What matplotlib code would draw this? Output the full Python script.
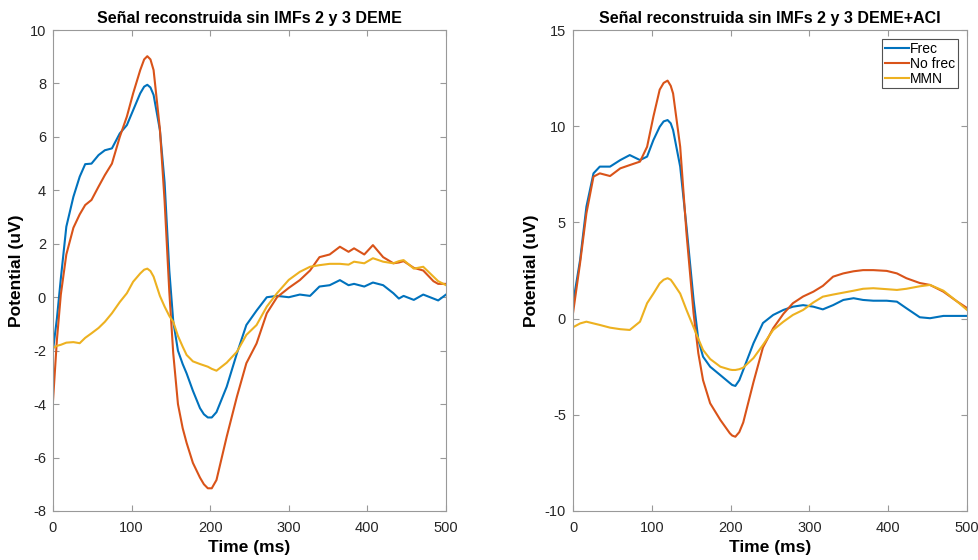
import matplotlib.pyplot as plt
import numpy as np

plt.rc('font', family=['Liberation Sans', 'DejaVu Sans'], size=10)
plt.rcParams['axes.unicode_minus'] = False

# left panel: DEME
t_left = [0, 5, 10, 17, 26, 34, 41, 49, 58, 66, 75, 85, 94, 102, 111, 116, 120,
          124, 128, 136, 142, 148, 153, 159, 165, 170, 178, 187, 192, 197, 202,
          208, 221, 234, 246, 259, 272, 285, 300, 314, 327, 339, 352, 365, 376,
          383, 396, 407, 420, 433, 440, 446, 459, 471, 484, 490, 500]
frec_left = [-2.0, -0.8, 0.7, 2.64, 3.76, 4.51, 4.98, 5.0, 5.32, 5.5, 5.57, 6.13,
             6.44, 7.0, 7.63, 7.88, 7.95, 7.85, 7.57, 6.26, 4.3, 1.0, -0.9, -2.0,
             -2.5, -2.85, -3.5, -4.15, -4.38, -4.5, -4.5, -4.3, -3.35, -2.1, -1.04,
             -0.5, 0.0, 0.05, 0.0, 0.1, 0.05, 0.4, 0.45, 0.64, 0.45, 0.5, 0.4,
             0.55, 0.45, 0.15, -0.05, 0.05, -0.1, 0.1, -0.05, -0.12, 0.1]
nofrec_left = [-3.9, -1.6, 0.1, 1.6, 2.6, 3.1, 3.45, 3.64, 4.14, 4.57, 5.0, 6.0,
               6.76, 7.63, 8.5, 8.9, 9.02, 8.9, 8.5, 6.3, 3.6, 0.2, -2.1, -4.0,
               -4.9, -5.45, -6.2, -6.75, -7.0, -7.15, -7.15, -6.84, -5.22, -3.72,
               -2.47, -1.73, -0.6, 0.0, 0.35, 0.64, 1.0, 1.5, 1.6, 1.89, 1.7,
               1.83, 1.6, 1.95, 1.5, 1.27, 1.3, 1.35, 1.1, 1.0, 0.6, 0.5, 0.5]
mmn_left = [-1.9, -1.82, -1.78, -1.7, -1.68, -1.72, -1.52, -1.35, -1.15, -0.92,
            -0.6, -0.18, 0.15, 0.58, 0.89, 1.03, 1.07, 0.98, 0.77, 0.05, -0.35,
            -0.7, -0.92, -1.45, -1.85, -2.16, -2.4, -2.5, -2.55, -2.6, -2.68,
            -2.75, -2.45, -2.04, -1.41, -1.04, -0.35, 0.15, 0.65, 0.95, 1.14,
            1.2, 1.25, 1.25, 1.22, 1.33, 1.27, 1.46, 1.33, 1.27, 1.35, 1.39,
            1.07, 1.14, 0.77, 0.6, 0.45]

# right panel: DEME+ACI
t_right = [0, 9, 17, 26, 34, 47, 60, 72, 85, 94, 102, 110, 115, 120, 124, 127,
           136, 144, 153, 159, 165, 174, 187, 199, 202, 206, 211, 216, 229, 241,
           254, 267, 279, 292, 305, 317, 330, 343, 356, 368, 381, 398, 411, 423,
           440, 453, 470, 487, 500]
frec_right = [0.8, 3.05, 5.82, 7.55, 7.9, 7.9, 8.24, 8.5, 8.24, 8.42, 9.28, 9.97,
              10.25, 10.32, 10.15, 9.8, 7.9, 4.78, 0.97, -1.1, -1.98, -2.5, -2.94,
              -3.35, -3.45, -3.5, -3.2, -2.67, -1.28, -0.23, 0.19, 0.45, 0.62,
              0.7, 0.62, 0.48, 0.7, 0.97, 1.06, 0.97, 0.93, 0.93, 0.88, 0.54,
              0.07, 0.02, 0.14, 0.14, 0.14]
nofrec_right = [0.28, 2.9, 5.47, 7.38, 7.55, 7.41, 7.81, 7.98, 8.16, 8.93, 10.5,
                11.9, 12.25, 12.37, 12.1, 11.7, 8.93, 4.43, 0.27, -1.8, -3.2,
                -4.4, -5.27, -5.96, -6.08, -6.14, -5.9, -5.4, -3.3, -1.5, -0.5,
                0.25, 0.8, 1.15, 1.4, 1.7, 2.18, 2.35, 2.46, 2.52, 2.52, 2.48,
                2.35, 2.1, 1.85, 1.75, 1.4, 0.9, 0.55]
mmn_right = [-0.45, -0.25, -0.16, -0.25, -0.33, -0.47, -0.55, -0.59, -0.16, 0.8,
             1.3, 1.83, 2.02, 2.1, 2.02, 1.85, 1.3, 0.45, -0.45, -1.05, -1.63,
             -2.1, -2.5, -2.65, -2.67, -2.67, -2.63, -2.55, -2.05, -1.37, -0.59,
             -0.16, 0.19, 0.45, 0.84, 1.14, 1.25, 1.35, 1.45, 1.55, 1.58, 1.53,
             1.49, 1.55, 1.68, 1.75, 1.45, 0.9, 0.45]

labels = ['Frec', 'No frec', 'MMN']
colors = ['#0072BD', '#D95319', '#EDB120']
titles = ['Señal reconstruida sin IMFs 2 y 3 DEME',
          'Señal reconstruida sin IMFs 2 y 3 DEME+ACI']

fig = plt.figure(figsize=(9.79, 5.6), dpi=100)
ax1 = fig.add_axes([0.0541, 0.0875, 0.4015, 0.8589])
ax2 = fig.add_axes([0.5853, 0.0875, 0.4025, 0.8589])

panels = [(ax1, t_left, [frec_left, nofrec_left, mmn_left], (-8, 10), np.arange(-8, 11, 2)),
          (ax2, t_right, [frec_right, nofrec_right, mmn_right], (-10, 15), np.arange(-10, 16, 5))]

for i, (ax, t, series, ylim, yticks) in enumerate(panels):
    for s, lab, c in zip(series, labels, colors):
        ax.plot(t, s, color=c, linewidth=1.5, label=lab)
    ax.set_xlim(0, 500)
    ax.set_ylim(*ylim)
    ax.set_xticks(np.arange(0, 501, 100))
    ax.set_yticks(yticks)
    ax.tick_params(direction='in', top=True, right=True, length=4, pad=5,
                   colors='#999999', labelcolor='#262626', labelsize=10.5)
    ax.tick_params(axis='x', pad=7)
    for sp in ax.spines.values():
        sp.set_color('#999999')
    ax.set_title(titles[i], fontsize=11.5, fontweight='bold', pad=5)
    ax.set_xlabel('Time (ms)', fontsize=12.5, fontweight='bold', labelpad=4)
    ax.set_ylabel('Potential (uV)', fontsize=12.5, fontweight='bold', labelpad=4)

leg = ax2.legend(loc='upper right', fontsize=10, handlelength=1.7, handletextpad=0.1,
                 borderpad=0.2, labelspacing=0.05, fancybox=False,
                 bbox_to_anchor=(0.995, 0.995))
leg.get_frame().set_edgecolor('#262626')
leg.get_frame().set_linewidth(0.8)

plt.savefig('out.png')
